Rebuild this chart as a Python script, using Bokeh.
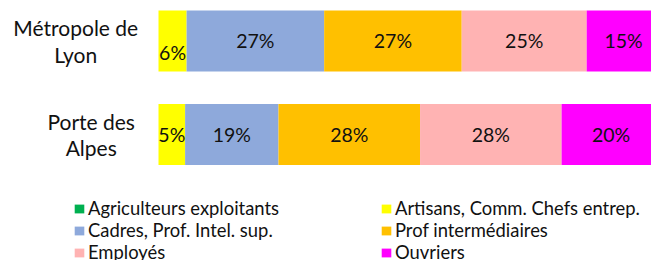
from bokeh.plotting import figure
from bokeh.models import Range1d, Legend, LegendItem, ColumnDataSource, LabelSet
from bokeh.core.properties import value
from bokeh.embed import file_html
from bokeh.resources import INLINE

categories = ["Métropole de\nLyon", "Porte des\nAlpes"]
series = ["Agriculteurs exploitants", "Artisans, Comm. Chefs entrep.",
          "Cadres, Prof. Intel. sup.", "Prof intermédiaires", "Employés", "Ouvriers"]
colors = ["#00B050", "#FFFF00", "#8EA9DB", "#FFC000", "#FFB3B3", "#FF00FF"]
agriculteurs = [0.0, 0.0]
artisans = [5.6, 5.3]
cadres = [27.4, 18.6]
prof_inter = [27.4, 28.2]
employes = [24.9, 28.2]
ouvriers = [14.7, 19.7]
values = [agriculteurs, artisans, cadres, prof_inter, employes, ouvriers]

FONT = "Lato"
PX_PER_UNIT = 5.02         # horizontal scale: 1 % ≈ 5 px
LABEL_GAP_PX = 21          # gap between category label block and bars
CAT_FONT_PX = 21
# the small "6%" label of the first bar sits lower than the others (screen px)
LABEL_DROP_PX = {(0, 1): -12}

n = len(categories)
ypos = [n - 1 - i for i in range(n)]

p = figure(width=651, height=260, output_backend="svg", toolbar_location=None,
           x_range=Range1d(-158 / PX_PER_UNIT, (651 - 158) / PX_PER_UNIT),
           y_range=Range1d(-1.3476, 1.433),
           min_border_left=0, min_border_right=0, min_border_top=0, min_border_bottom=0)
p.outline_line_color = None
p.xgrid.visible = False
p.ygrid.visible = False
p.xaxis.visible = False
p.yaxis.visible = False

renderers = []
left = [0.0] * n
lx, ly, lt, loff = [], [], [], []
for k, (s, c, v) in enumerate(zip(series, colors, values)):
    right = [a + b for a, b in zip(left, v)]
    src = ColumnDataSource(dict(y=ypos, left=left, right=right))
    r = p.hbar(y="y", left="left", right="right", height=0.65, source=src,
               fill_color=c, line_color=None)
    renderers.append(r)
    for i in range(n):
        if v[i] >= 1:
            lx.append((left[i] + right[i]) / 2)
            ly.append(ypos[i])
            lt.append(f"{v[i]:.0f}%")
            loff.append(LABEL_DROP_PX.get((i, k), 0))
    left = right

lsrc = ColumnDataSource(dict(x=lx, y=ly, t=lt, off=loff))
p.add_layout(LabelSet(x="x", y="y", text="t", source=lsrc, y_offset="off", text_align="center",
                      text_baseline="middle", text_font=value(FONT), text_font_size="19.5px",
                      text_color="#111111"))

# category labels: block right-aligned next to the bars, lines centred within the block
def est_width_px(label):
    return max(len(line) for line in label.split("\n")) * 0.49 * CAT_FONT_PX

cx = [-(LABEL_GAP_PX + est_width_px(c) / 2) / PX_PER_UNIT for c in categories]
csrc = ColumnDataSource(dict(x=cx, y=ypos, t=categories))
p.text(x="x", y="y", text="t", source=csrc, text_align="center", text_baseline="middle",
       text_font=value(FONT), text_font_size=f"{CAT_FONT_PX}px", text_color="#111111",
       text_line_height=1.06)

def mk_legend(idx, loc):
    lg = Legend(items=[LegendItem(label=series[i], renderers=[renderers[i]]) for i in idx],
                location=loc, orientation="vertical", padding=0, spacing=0, margin=0,
                border_line_color=None, background_fill_alpha=0,
                label_text_font=FONT, label_text_font_size="18.4px", label_text_color="#111111",
                glyph_width=12, glyph_height=11, label_height=20, label_standoff=3)
    p.add_layout(lg, "center")

mk_legend([0, 2, 4], (73, -3))
mk_legend([1, 3, 5], (380, -3))

open("out.html", "w").write(file_html(p, INLINE))
